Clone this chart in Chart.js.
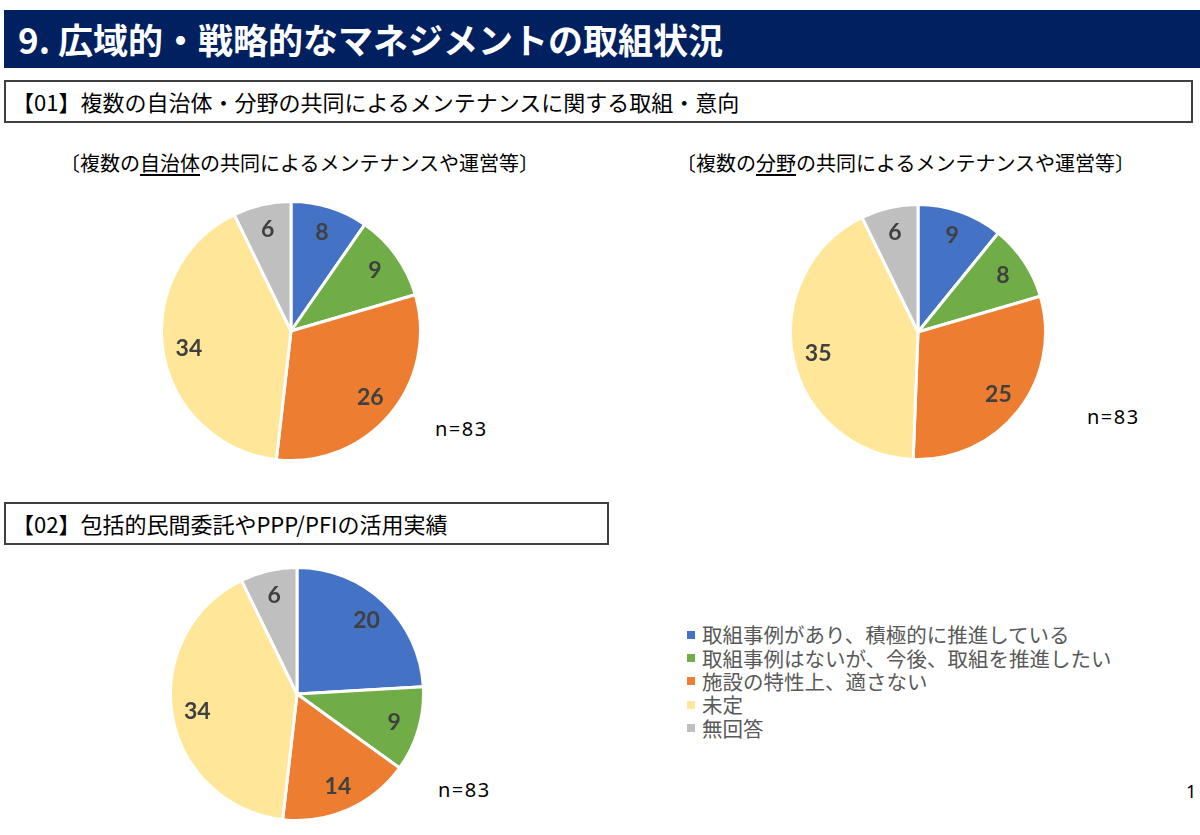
<!DOCTYPE html>
<html lang="ja">
<head>
    <meta charset="UTF-8">
    <title>広域的・戦略的なマネジメントの取組状況</title>
    <style>
        body {
            margin: 0;
            width: 1200px;
            height: 835px;
            position: relative;
            overflow: hidden;
            background: #fff;
            font-family: "Noto Sans CJK JP", "Noto Sans", sans-serif;
        }
        .header {
            position: absolute;
            left: 4px; top: 10px;
            width: 1196px; height: 58px;
            background: #002060;
            color: #fff;
            font-weight: 700;
            font-size: 35px;
            line-height: 58px;
            padding-left: 14px;
            box-sizing: border-box;
        }
        .box {
            position: absolute;
            left: 4px;
            border: 2px solid #404040;
            box-sizing: border-box;
            font-size: 22px;
            color: #000;
            padding-left: 6px;
        }
        .sub {
            position: absolute;
            top: 149px;
            font-size: 20px;
            line-height: 28px;
            color: #000;
        }
        .sub u { text-underline-offset: 3px; }
        .pie { position: absolute; }
        .n {
            position: absolute;
            font-family: "Noto Sans", sans-serif;
            font-size: 20px;
            letter-spacing: 1.5px;
            line-height: 24px;
            color: #000;
        }
        .legend {
            position: absolute;
            left: 687px; top: 623px;
            font-size: 20.5px;
            line-height: 23px;
            color: #595959;
        }
        .legend div { display: flex; align-items: center; white-space: nowrap; height: 23.4px; }
        .legend span.sw { width: 8px; height: 8px; margin-right: 7px; flex: none; }
        .legend span.tx { display: inline-block; height: 23px; line-height: 23px; overflow: visible; }
        .page {
            position: absolute;
            left: 1186px; top: 779px;
            font-family: "Noto Sans", sans-serif;
            font-size: 18px;
        }
    </style>
</head>
<body>
    <div class="header">9. 広域的・戦略的なマネジメントの取組状況</div>
    <div class="box" style="top:80px; width:1189px; height:43px; line-height:38px;">【01】複数の自治体・分野の共同によるメンテナンスに関する取組・意向</div>
    <div class="sub" style="left:60px;">〔複数の<u>自治体</u>の共同によるメンテナンスや運営等〕</div>
    <div class="sub" style="left:676px;">〔複数の<u>分野</u>の共同によるメンテナンスや運営等〕</div>

    <div class="pie" style="left:160px; top:200px; width:262px; height:262px;"><canvas id="pie1"></canvas></div>
    <div class="pie" style="left:789px; top:203px; width:258px; height:258px;"><canvas id="pie2"></canvas></div>
    <div class="n" style="left:435px; top:417px;">n=83</div>
    <div class="n" style="left:1087px; top:405px;">n=83</div>

    <div class="box" style="top:502px; width:605px; height:43px; line-height:38px;">【02】包括的民間委託やPPP/PFIの活用実績</div>
    <div class="pie" style="left:169px; top:566px; width:256px; height:256px;"><canvas id="pie3"></canvas></div>
    <div class="n" style="left:438px; top:778px;">n=83</div>

    <div class="legend" id="legend"></div>
    <div class="page">1</div>

    <script src="https://cdn.jsdelivr.net/npm/chart.js"></script>
    <script>
        const categories = [
            '取組事例があり、積極的に推進している',
            '取組事例はないが、今後、取組を推進したい',
            '施設の特性上、適さない',
            '未定',
            '無回答'
        ];
        const colors = ['#4472C4', '#70AD47', '#ED7D31', '#FFE699', '#BFBFBF'];

        // 複数の自治体の共同
        const municipalValues = [8, 9, 26, 34, 6];
        // 複数の分野の共同
        const fieldValues = [9, 8, 25, 35, 6];
        // 包括的民間委託やPPP/PFI
        const pppValues = [20, 9, 14, 34, 6];

        // value labels inside each slice
        const sliceLabels = {
            id: 'sliceLabels',
            afterDatasetsDraw(chart) {
                const ctx = chart.ctx;
                const meta = chart.getDatasetMeta(0);
                const data = chart.data.datasets[0].data;
                ctx.save();
                ctx.font = 'bold 23px Lato, "Noto Sans", sans-serif';
                ctx.fillStyle = '#404040';
                ctx.textAlign = 'center';
                ctx.textBaseline = 'middle';
                meta.data.forEach(function(arc, i) {
                    const p = arc.getProps(['x', 'y', 'startAngle', 'endAngle', 'outerRadius'], true);
                    const mid = (p.startAngle + p.endAngle) / 2;
                    const r = p.outerRadius * 0.8;
                    ctx.fillText(data[i], p.x + Math.cos(mid) * r, p.y + Math.sin(mid) * r);
                });
                ctx.restore();
            }
        };

        function makePie(id, values) {
            new Chart(document.getElementById(id), {
                type: 'pie',
                data: {
                    labels: categories,
                    datasets: [{
                        data: values,
                        backgroundColor: colors,
                        borderColor: '#ffffff',
                        borderWidth: 3,
                        hoverOffset: 0,
                        offset: 0
                    }]
                },
                options: {
                    responsive: true,
                    maintainAspectRatio: false,
                    animation: false,
                    events: [],
                    layout: { padding: 0 },
                    plugins: {
                        legend: { display: false },
                        tooltip: { enabled: false }
                    }
                },
                plugins: [sliceLabels]
            });
        }

        makePie('pie1', municipalValues);
        makePie('pie2', fieldValues);
        makePie('pie3', pppValues);

        const legend = document.getElementById('legend');
        categories.forEach(function(label, i) {
            const row = document.createElement('div');
            const sw = document.createElement('span');
            sw.className = 'sw';
            sw.style.background = colors[i];
            const tx = document.createElement('span');
            tx.className = 'tx';
            tx.textContent = label;
            row.appendChild(sw);
            row.appendChild(tx);
            legend.appendChild(row);
        });
    </script>
</body>
</html>
